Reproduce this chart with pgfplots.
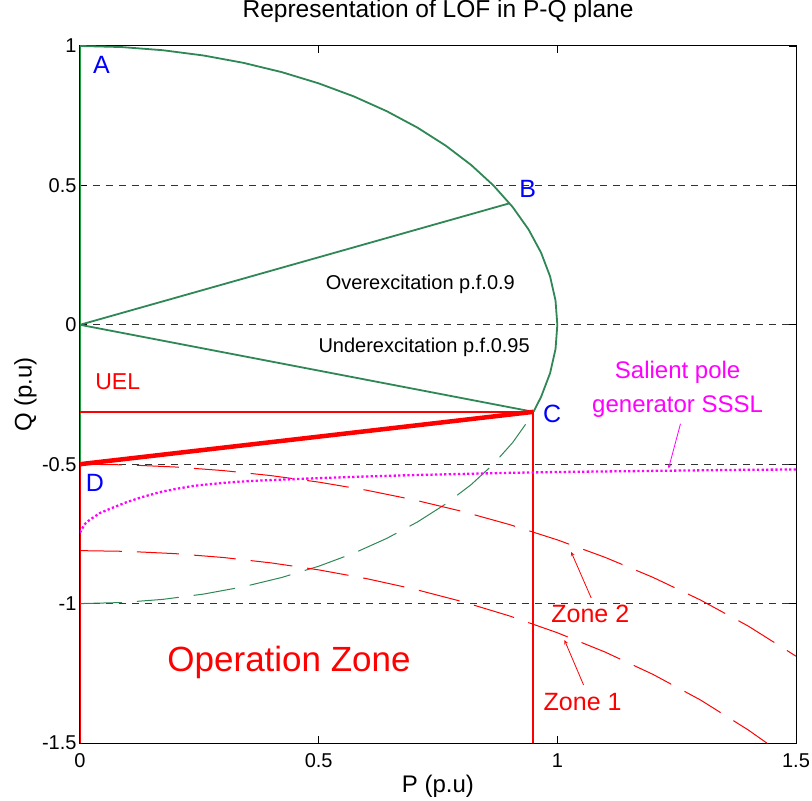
\documentclass[border=0pt]{standalone}
\usepackage{fontspec}
\setmainfont{Liberation Sans}
\usepackage{pgfplots}
\pgfplotsset{compat=1.18}
\definecolor{curvegreen}{RGB}{46,135,85}
\definecolor{axisgreen}{RGB}{30,160,60}
\definecolor{mred}{RGB}{255,0,0}
\definecolor{mmag}{RGB}{255,0,255}
\definecolor{mblue}{RGB}{0,0,255}
\newcommand{\fs}[1]{\fontsize{#1bp}{#1bp}\selectfont}
\begin{document}
\begin{tikzpicture}
\useasboundingbox (-80bp,-58bp) rectangle (732bp,743bp);
\begin{axis}[
  width=716bp, height=697bp, scale only axis,
  xmin=0, xmax=1.5, ymin=-1.5, ymax=1,
  xtick={0,0.5,1,1.5}, ytick={-1.5,-1,-0.5,0,0.5,1},
  tick align=inside, major tick length=7bp,
  axis line style={line width=1bp},
  tick style={line width=0.8bp, black},
  ytick={-1,-0.5,0,0.5}, 
  ymajorgrids,
  extra y ticks={-1.5,1},
  extra y tick style={grid=none},
  grid style={dash pattern=on 7bp off 6bp, black!80, line width=0.9bp},
  /pgf/number format/assume math mode=true,
  ticklabel style={font=\fs{20}},
  xticklabel style={yshift=-7bp},
  title={Representation of LOF in P-Q plane},
  title style={at={(0.5,1.0316)}, anchor=base, font=\fs{24.5}},
  xlabel={P (p.u)},
  xlabel style={at={(0.5,-0.0717)}, anchor=base, font=\fs{24}},
  ylabel={Q (p.u)},
  ylabel style={at={(-0.0761,0.5)}, anchor=center, font=\fs{24}},
  clip=true,
]
% left vertical lines
\addplot[axisgreen, line width=1.5bp] coordinates {(0,-0.5) (0,1)};
\addplot[mred, line width=2bp] coordinates {(0,-1.5) (0,-0.5)};
% capability circle (upper part)
\addplot[curvegreen, line width=1.8bp] coordinates {
(0,1) (0.0872,0.9962) (0.1736,0.9848) (0.2588,0.9659) (0.3420,0.9397)
(0.4226,0.9063) (0.5,0.8660) (0.5736,0.8192) (0.6428,0.7660) (0.7071,0.7071)
(0.7660,0.6428) (0.8192,0.5736) (0.8660,0.5) (0.9063,0.4226) (0.9397,0.3420)
(0.9659,0.2588) (0.9848,0.1736) (0.9962,0.0872) (1,0) (0.9962,-0.0872)
(0.9848,-0.1736) (0.9659,-0.2588) (0.95,-0.3122)};
% pf lines
\addplot[curvegreen, line width=1.8bp] coordinates {(0,0) (0.9,0.4359)};
\addplot[curvegreen, line width=1.8bp] coordinates {(0,0) (0.95,-0.3122)};
% lower dashed circle
\addplot[curvegreen, line width=1bp, dash pattern=on 42bp off 15bp] coordinates {
(0,-1) (0.0872,-0.9962) (0.1736,-0.9848) (0.2588,-0.9659) (0.3420,-0.9397)
(0.4226,-0.9063) (0.5,-0.8660) (0.5736,-0.8192) (0.6428,-0.7660) (0.7071,-0.7071)
(0.7660,-0.6428) (0.8192,-0.5736) (0.8660,-0.5) (0.9063,-0.4226) (0.9397,-0.3420)
(0.95,-0.3122)};
% UEL lines
\addplot[mred, line width=2bp] coordinates {(0,-0.3122) (0.95,-0.3122)};
\addplot[mred, line width=4.5bp] coordinates {(0,-0.5) (0.95,-0.3122)};
\addplot[mred, line width=2bp] coordinates {(0.95,-0.3122) (0.95,-1.5)};
% Zone 2
\addplot[mred, line width=1bp, dash pattern=on 42bp off 15bp] coordinates {
(0,-0.500) (0.1,-0.5025) (0.2,-0.5101) (0.3,-0.5229) (0.4,-0.5409) (0.5,-0.5642)
(0.6,-0.5932) (0.7,-0.6280) (0.8,-0.6690) (0.9,-0.7166) (1.0,-0.7714) (1.1,-0.8341)
(1.2,-0.9056) (1.3,-0.9872) (1.4,-1.0807) (1.5,-1.1886)};
% Zone 1
\addplot[mred, line width=1bp, dash pattern=on 42bp off 15bp] coordinates {
(0,-0.810) (0.1,-0.8127) (0.2,-0.8209) (0.3,-0.8346) (0.4,-0.8539) (0.5,-0.8790)
(0.6,-0.9103) (0.7,-0.9480) (0.8,-0.9925) (0.9,-1.0444) (1.0,-1.1045) (1.1,-1.1738)
(1.2,-1.2536) (1.3,-1.3458) (1.4,-1.4533) (1.4387,-1.5)};
% SSSL
\addplot[mmag, line width=2.3bp, dash pattern=on 2.3bp off 2.3bp] coordinates {
(0,-0.745) (0.01,-0.715) (0.02,-0.700) (0.042,-0.675) (0.07,-0.655) (0.098,-0.636)
(0.13,-0.618) (0.168,-0.600) (0.2,-0.589) (0.237,-0.578) (0.27,-0.572) (0.308,-0.566)
(0.35,-0.561) (0.4,-0.557) (0.5,-0.550) (0.6,-0.544) (0.7,-0.539) (0.8,-0.535)
(0.9,-0.531) (1.0,-0.528) (1.1,-0.526) (1.2,-0.524) (1.3,-0.522) (1.4,-0.520) (1.5,-0.519)};
% labels
\node[mblue, font=\fs{25}, anchor=center] at (axis cs:0.045,0.932) {A};
\node[mblue, font=\fs{25}, anchor=center] at (axis cs:0.938,0.487) {B};
\node[mblue, font=\fs{25}, anchor=center] at (axis cs:0.989,-0.320) {C};
\node[mblue, font=\fs{25}, anchor=center] at (axis cs:0.031,-0.566) {D};
\node[mred, font=\fs{23}, anchor=center] at (axis cs:0.079,-0.205) {UEL};
\node[black, font=\fs{20}, anchor=base] at (axis cs:0.713,0.128) {Overexcitation p.f.0.9};
\node[black, font=\fs{20}, anchor=base] at (axis cs:0.721,-0.098) {Underexcitation p.f.0.95};
\node[mmag, font=\fs{24}, anchor=base] at (axis cs:1.252,-0.194) {Salient pole};
\node[mmag, font=\fs{24}, anchor=base] at (axis cs:1.252,-0.316) {generator SSSL};
\draw[mmag, line width=0.8bp, -stealth] (axis cs:1.258,-0.355) -- (axis cs:1.233,-0.515);
\node[mred, font=\fs{35}, anchor=base] at (axis cs:0.438,-1.245) {Operation Zone};
\node[mred, font=\fs{25}, anchor=base] at (axis cs:1.069,-1.066) {Zone 2};
\draw[mred, line width=0.8bp, -stealth] (axis cs:1.071,-0.980) -- (axis cs:1.029,-0.815);
\node[mred, font=\fs{25}, anchor=base] at (axis cs:1.053,-1.382) {Zone 1};
\draw[mred, line width=0.8bp, -stealth] (axis cs:1.055,-1.292) -- (axis cs:1.015,-1.131);
\end{axis}
\end{tikzpicture}
\end{document}
